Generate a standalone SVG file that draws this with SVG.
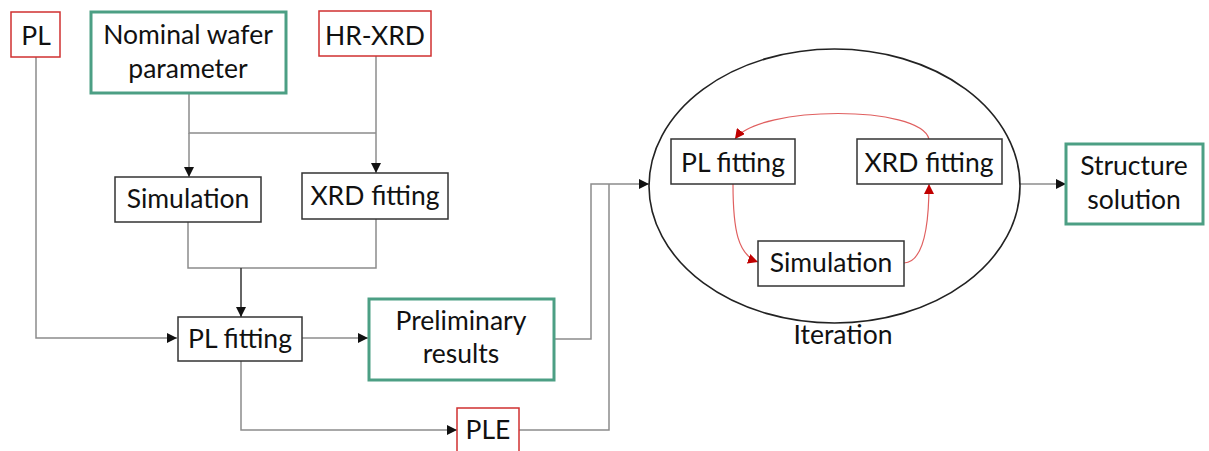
<svg xmlns="http://www.w3.org/2000/svg" width="1209" height="451" viewBox="0 0 1209 451">
  <style>
    text { font-family: Lato, "Liberation Sans", sans-serif; font-size: 26.5px; fill: #111; text-anchor: middle; }
    .box { fill: #fff; stroke: #333; stroke-width: 1.5; }
    .red { fill: #fff; stroke: #d03030; stroke-width: 1.5; }
    .green { fill: #fff; stroke: #4c9f84; stroke-width: 3; }
    .wire { fill: none; stroke: #8c8c8c; stroke-width: 1.5; }
    .dark { fill: none; stroke: #333; stroke-width: 1.5; }
    .loop { fill: none; stroke: #e06060; stroke-width: 1.2; }
  </style>
  <defs>
    <marker id="arrow" viewBox="0 0 10 10" refX="10" refY="5" markerWidth="10" markerHeight="10" markerUnits="userSpaceOnUse" orient="auto">
      <path d="M0,0 L10,5 L0,10 z" fill="#111"/>
    </marker>
    <marker id="arrowRed" viewBox="0 0 10 10" refX="10" refY="5" markerWidth="10" markerHeight="10" markerUnits="userSpaceOnUse" orient="auto">
      <path d="M0,0 L10,5 L0,10 z" fill="#c00000"/>
    </marker>
  </defs>

  <!-- connectors -->
  <g id="connectors">
    <!-- PL source to PL fitting -->
    <path class="wire" d="M36,57 V338 H177" marker-end="url(#arrow)"/>
    <!-- nominal parameters split to simulation and XRD fitting -->
    <path class="wire" d="M189,93 V133 H376"/>
    <path class="wire" d="M189,133 V177" marker-end="url(#arrow)"/>
    <path class="wire" d="M376,56 V173" marker-end="url(#arrow)"/>
    <!-- simulation and XRD fitting merge into PL fitting -->
    <path class="wire" d="M188,222 V268 H376 V219"/>
    <path class="dark" d="M241,268 V317" marker-end="url(#arrow)"/>
    <!-- PL fitting outputs -->
    <path class="wire" d="M302,338 H368" marker-end="url(#arrow)"/>
    <path class="wire" d="M241,361 V430 H457" marker-end="url(#arrow)"/>
    <!-- preliminary results and PLE into iteration -->
    <path class="wire" d="M554,339 H591 V184 H649" marker-end="url(#arrow)"/>
    <path class="wire" d="M519,430 H609 V184"/>
    <!-- iteration to structure solution -->
    <path class="wire" d="M1020,184 H1066" marker-end="url(#arrow)"/>
    <!-- iteration loop -->
    <path class="loop" d="M929,139 C920,105 760,105 735,139" marker-end="url(#arrowRed)"/>
    <path class="loop" d="M733,184 C733,230 738,255 758,262" marker-end="url(#arrowRed)"/>
    <path class="loop" d="M904,263 C925,262 929,220 929,184" marker-end="url(#arrowRed)"/>
  </g>

  <g id="pl">
    <rect class="red" x="11" y="12" width="49" height="45"/>
    <text x="36" y="45">PL</text>
  </g>
  <g id="nominal">
    <rect class="green" x="91" y="12" width="195" height="81"/>
    <text x="188" y="44">Nominal wafer</text>
    <text x="188" y="78">parameter</text>
  </g>
  <g id="hrxrd">
    <rect class="red" x="319" y="11" width="112" height="45"/>
    <text x="375" y="45">HR-XRD</text>
  </g>
  <g id="simulation">
    <rect class="box" x="115" y="177" width="146" height="45"/>
    <text x="188" y="208">Simulation</text>
  </g>
  <g id="xrd-fitting">
    <rect class="box" x="302" y="173" width="146" height="46"/>
    <text x="375" y="205">XRD fitting</text>
  </g>
  <g id="pl-fitting">
    <rect class="box" x="178" y="317" width="124" height="44"/>
    <text x="240" y="348">PL fitting</text>
  </g>
  <g id="preliminary">
    <rect class="green" x="369" y="299" width="185" height="81"/>
    <text x="461" y="330">Preliminary</text>
    <text x="461" y="363">results</text>
  </g>
  <g id="ple">
    <rect class="red" x="457" y="408" width="62" height="44"/>
    <text x="488" y="439">PLE</text>
  </g>
  <g id="iteration">
    <ellipse cx="834.5" cy="186" rx="185.5" ry="137" fill="none" stroke="#222" stroke-width="1.6"/>
    <text x="843" y="344">Iteration</text>
  </g>
  <g id="iter-pl-fitting">
    <rect class="box" x="671" y="139" width="124" height="45"/>
    <text x="733" y="172">PL fitting</text>
  </g>
  <g id="iter-xrd-fitting">
    <rect class="box" x="857" y="139" width="145" height="45"/>
    <text x="929" y="172">XRD fitting</text>
  </g>
  <g id="iter-simulation">
    <rect class="box" x="758" y="241" width="146" height="45"/>
    <text x="831" y="272">Simulation</text>
  </g>
  <g id="structure">
    <rect class="green" x="1066" y="144" width="137" height="80"/>
    <text x="1134" y="175">Structure</text>
    <text x="1134" y="209">solution</text>
  </g>
</svg>
